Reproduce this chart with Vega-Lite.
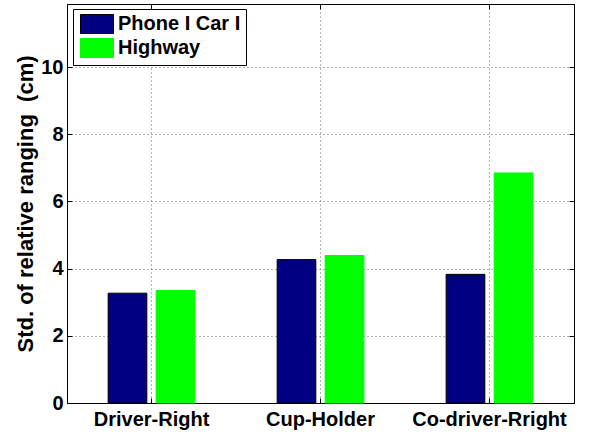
{
  "$schema": "https://vega.github.io/schema/vega-lite/v6.json",
  "width": 507,
  "height": 399,
  "autosize": {"type": "none"},
  "padding": {"left": 67, "top": 4, "right": 15, "bottom": 33},
  "background": "white",
  "config": {
    "font": "Liberation Sans",
    "view": {"stroke": "black", "strokeWidth": 1},
    "axis": {
      "domainColor": "black",
      "tickColor": "black",
      "labelColor": "black",
      "labelFont": "Liberation Sans",
      "labelFontSize": 20,
      "labelFontWeight": "bold",
      "titleFont": "Liberation Sans",
      "titleFontSize": 22,
      "titleFontWeight": "bold",
      "titleColor": "black",
      "gridColor": "#666666",
      "gridDash": [1, 3],
      "gridWidth": 1,
      "gridOpacity": 1,
      "labelLimit": 0
    }
  },
  "data": {
    "values": [
      {"location": "Driver-Right", "series": "Phone I Car I", "value": 3.27},
      {"location": "Driver-Right", "series": "Highway", "value": 3.35},
      {"location": "Cup-Holder", "series": "Phone I Car I", "value": 4.27},
      {"location": "Cup-Holder", "series": "Highway", "value": 4.39},
      {"location": "Co-driver-Rright", "series": "Phone I Car I", "value": 3.83},
      {"location": "Co-driver-Rright", "series": "Highway", "value": 6.85}
    ]
  },
  "resolve": {"axis": {"x": "independent", "y": "independent"}},
  "layer": [
    {
      "mark": {"type": "bar", "strokeWidth": 1},
      "encoding": {
        "x": {
          "field": "location",
          "type": "nominal",
          "sort": ["Driver-Right", "Cup-Holder", "Co-driver-Rright"],
          "scale": {"paddingInner": 0.487, "paddingOuter": 0.2435},
          "axis": {
            "orient": "bottom",
            "title": null,
            "labelAngle": 0,
            "bandPosition": 0.5,
            "grid": true,
            "ticks": true,
            "tickSize": -5,
            "labelBaseline": "alphabetic",
            "labelPadding": 27
          }
        },
        "xOffset": {
          "field": "series",
          "sort": ["Phone I Car I", "Highway"],
          "scale": {"paddingInner": 0.194, "paddingOuter": 0}
        },
        "y": {
          "field": "value",
          "type": "quantitative",
          "scale": {"domain": [0, 11.88], "nice": false},
          "axis": {
            "orient": "left",
            "title": "Std. of relative ranging\u00a0 (cm)",
            "values": [0, 2, 4, 6, 8, 10],
            "grid": true,
            "ticks": true,
            "tickSize": -5,
            "labelPadding": 9,
            "titleX": -35,
            "titleBaseline": "alphabetic",
            "titleAngle": -90
          }
        },
        "fill": {
          "field": "series",
          "type": "nominal",
          "sort": ["Phone I Car I", "Highway"],
          "scale": {"domain": ["Phone I Car I", "Highway"], "range": ["#000080", "#00ff00"]},
          "legend": {
            "title": null,
            "orient": "none",
            "legendX": 6,
            "legendY": 5,
            "strokeColor": "black",
            "fillColor": "white",
            "padding": 5,
            "symbolType": "M-1.737,-1H1.737V1H-1.737Z",
            "symbolSize": 361,
            "symbolOffset": 9,
            "labelFont": "Liberation Sans",
            "labelFontSize": 20,
            "labelFontWeight": "bold",
            "labelColor": "black",
            "labelLimit": 0,
            "labelOffset": 11,
            "rowPadding": 0,
            "encode": {
              "symbols": {
                "update": {
                  "stroke": {"signal": "datum.value === 'Phone I Car I' ? 'black' : '#00ff00'"},
                  "strokeWidth": {"value": 1}
                }
              }
            }
          }
        },
        "stroke": {
          "field": "series",
          "type": "nominal",
          "scale": {"domain": ["Phone I Car I", "Highway"], "range": ["black", "#00ff00"]},
          "legend": null
        }
      }
    },
    {
      "mark": {"type": "bar", "opacity": 0},
      "encoding": {
        "x": {
          "field": "location",
          "type": "nominal",
          "sort": ["Driver-Right", "Cup-Holder", "Co-driver-Rright"],
          "axis": {
            "orient": "top",
            "title": null,
            "labels": false,
            "bandPosition": 0.5,
            "grid": false,
            "ticks": true,
            "tickSize": -5
          }
        },
        "y": {
          "field": "value",
          "type": "quantitative",
          "axis": {
            "orient": "right",
            "title": null,
            "labels": false,
            "values": [0, 2, 4, 6, 8, 10],
            "grid": false,
            "ticks": true,
            "tickSize": -5
          }
        }
      }
    }
  ]
}
